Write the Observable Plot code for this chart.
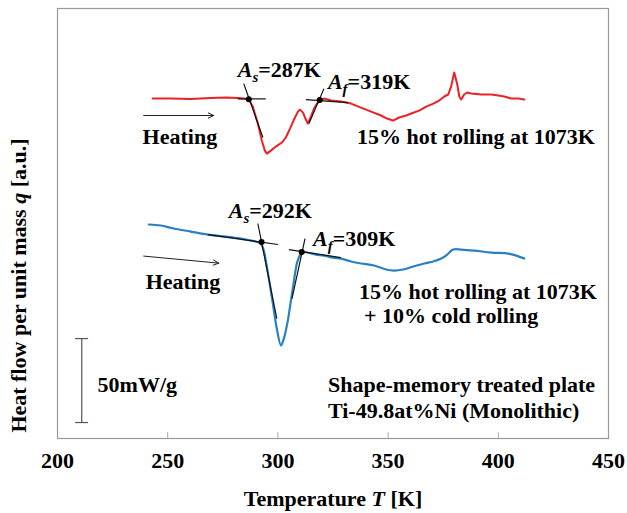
<!DOCTYPE html>
<html><head><meta charset="utf-8">
<script src="https://cdn.jsdelivr.net/npm/d3@7"></script>
<script src="https://cdn.jsdelivr.net/npm/@observablehq/plot@0.6"></script>
<style>body{margin:0;background:#fff}</style>
</head><body><div id="chart"></div>
<script>
// Temperature (K) and heat flow (mW/g, arbitrary offset)
const redT = [243.2, 251.4, 260.5, 269.5, 276.4, 281.8, 284.5, 286.8, 288.6, 290.9, 292.7, 294.1, 295.0, 296.8, 299.1, 301.8, 303.6, 305.5, 307.3, 309.1, 310.0, 311.4, 312.7, 313.6, 315.0, 316.4, 317.7, 319.1, 320.9, 324.1, 328.6, 333.2, 337.7, 342.3, 346.8, 349.5, 352.3, 355.0, 358.2, 360.5, 364.1, 367.3, 370.5, 373.2, 375.5, 377.3, 378.6, 380.0, 381.4, 382.3, 383.2, 384.5, 385.9, 387.7, 392.3, 396.8, 400.0, 402.7, 405.9, 409.1, 411.8];
const redQ = [202.4, 202.4, 202.1, 202.7, 203.0, 202.7, 202.4, 201.8, 197.6, 187.5, 177.4, 171.4, 169.6, 171.4, 173.8, 176.2, 179.2, 184.5, 189.9, 194.6, 195.8, 194.0, 189.9, 187.5, 191.7, 196.4, 199.4, 201.2, 202.4, 201.2, 200.6, 199.4, 197.0, 194.6, 192.3, 190.5, 189.3, 191.1, 192.3, 193.5, 195.2, 197.6, 199.4, 201.2, 203.6, 204.8, 209.5, 217.9, 210.7, 203.6, 201.8, 204.8, 206.0, 205.4, 204.8, 204.8, 204.2, 203.6, 202.4, 202.4, 201.8];
const blueT = [241.4, 246.8, 252.7, 260.5, 268.2, 276.4, 283.2, 287.7, 290.5, 292.3, 293.6, 294.5, 295.9, 297.7, 299.5, 301.4, 302.7, 304.5, 305.9, 307.3, 308.6, 309.5, 310.9, 313.6, 317.3, 320.9, 325.0, 328.6, 333.2, 337.7, 343.6, 349.1, 352.7, 356.8, 361.4, 366.4, 370.5, 374.1, 376.8, 379.5, 383.2, 389.1, 396.8, 404.5, 408.2, 411.8];
const blueQ = [127.4, 126.8, 125.0, 123.2, 121.4, 120.2, 119.0, 117.9, 117.0, 116.0, 111.9, 106.0, 95.2, 80.4, 65.5, 55.4, 59.5, 70.2, 82.1, 94.0, 104.2, 107.7, 111.0, 110.6, 109.5, 108.9, 107.7, 107.1, 105.4, 104.2, 103.0, 100.6, 100.0, 100.6, 102.4, 104.2, 105.4, 107.1, 109.5, 112.5, 112.5, 111.9, 110.7, 110.1, 108.9, 107.1];

// Onset / finish points
const pointT = [286.8, 319.0, 292.6, 310.8];
const pointQ = [202.0, 201.5, 117.0, 111.0];

// Tangent construction lines [T1, q1, T2, q2]
const tangents = [
  [281.8, 202.2, 294.5, 202.2],
  [284.5, 211.3, 293.2, 179.2],
  [312.7, 201.8, 331.8, 200.0],
  [314.1, 187.5, 320.9, 208.3],
  [268.2, 121.4, 300.0, 115.5],
  [290.9, 128.0, 299.5, 71.4],
  [305.0, 112.5, 328.6, 107.7],
  [306.4, 83.3, 312.3, 119.0]
];

// Heating arrows [T1, q1, T2, q2]
const arrows = [
  [239.1, 192.3, 270.9, 192.3],
  [239.1, 108.6, 273.2, 104.4]
];

// Text annotations
const labelText = ["As=287K", "Af=319K", "Heating", "15% hot rolling at 1073K", "As=292K", "Af=309K", "Heating", "15% hot rolling at 1073K", "+ 10% cold rolling", "50mW/g", "Shape-memory treated plate", "Ti-49.8at%Ni (Monolithic)"];
const labelT = [281.8, 322.7, 238.6, 335.9, 277.7, 315.9, 240.0, 336.8, 339.1, 218.2, 322.7, 322.7];
const labelQ = [215.5, 208.3, 175.6, 175.6, 131.0, 114.9, 89.3, 83.3, 68.5, 27.4, 27.4, 12.5];

// Scale bar: 50 mW/g
const scaleT = 211;
const scaleQ = [9.5, 59.5];
const scaleCapT = [208.2, 214.1];

const xTicks = [200, 250, 300, 350, 400, 450];
const innerTicks = [250, 300, 350, 400];

const red = redT.map((t, i) => ({t, q: redQ[i]}));
const blue = blueT.map((t, i) => ({t, q: blueQ[i]}));
const pts = pointT.map((t, i) => ({t, q: pointQ[i]}));
const labels = labelText.map((s, i) => ({s, t: labelT[i], q: labelQ[i]}));

const chart = Plot.plot({
  width: 627,
  height: 513,
  marginLeft: 57,
  marginRight: 19,
  marginTop: 8,
  marginBottom: 75,
  style: {fontFamily: "'Liberation Serif', 'Times New Roman', serif", fontSize: "22px", fontWeight: "bold", background: "#fff", color: "#000"},
  x: {domain: [200, 450], ticks: xTicks, tickSize: 0, tickPadding: 14, tickFormat: d => String(d), label: null},
  y: {domain: [0, 256], axis: null},
  marks: [
    Plot.frame({stroke: "#999", strokeWidth: 1.2}),
    Plot.ruleX(innerTicks, {y1: 0, y2: 3.5, stroke: "#aaa"}),
    Plot.line(red, {x: "t", y: "q", stroke: "#ec2027", strokeWidth: 2}),
    Plot.line(blue, {x: "t", y: "q", stroke: "#2b7fc3", strokeWidth: 2.2, curve: "catmull-rom"}),
    Plot.link(tangents, {x1: d => d[0], y1: d => d[1], x2: d => d[2], y2: d => d[3], stroke: "#111", strokeWidth: 1.2}),
    Plot.dot(pts, {x: "t", y: "q", r: 3, fill: "#000"}),
    Plot.arrow(arrows, {x1: d => d[0], y1: d => d[1], x2: d => d[2], y2: d => d[3], stroke: "#222", strokeWidth: 1, headLength: 9, headAngle: 50}),
    Plot.ruleX([scaleT], {y1: scaleQ[0], y2: scaleQ[1], stroke: "#555", strokeWidth: 1.2}),
    Plot.ruleY(scaleQ, {x1: scaleCapT[0], x2: scaleCapT[1], stroke: "#555", strokeWidth: 1.2}),
    Plot.text(labels, {x: "t", y: "q", text: "s", textAnchor: "start", lineAnchor: "bottom", fontSize: 22}),
    Plot.text(["Temperature T [K]"], {frameAnchor: "bottom", dy: 67, lineAnchor: "bottom", textAnchor: "middle", fontSize: 22}),
    Plot.text(["Heat flow per unit mass q [a.u.]"], {frameAnchor: "left", dx: -39, dy: 62, rotate: -90, textAnchor: "middle", lineAnchor: "middle", fontSize: 22})
  ]
});
document.getElementById("chart").appendChild(chart);

// Rich text: italic symbols and subscripts
chart.querySelectorAll("text").forEach(el => {
  const s = el.textContent;
  let m = s.match(/^A([sf])(=.*)$/);
  if (m) {
    el.innerHTML = `<tspan font-style="italic">A</tspan><tspan font-style="italic" font-size="15" dy="5">${m[1]}</tspan><tspan dy="-5">${m[2]}</tspan>`;
  } else if (s === "Temperature T [K]") {
    el.innerHTML = `Temperature <tspan font-style="italic">T</tspan> [K]`;
  } else if (s === "Heat flow per unit mass q [a.u.]") {
    el.innerHTML = `Heat flow per unit mass <tspan font-style="italic">q</tspan> [a.u.]`;
  }
});
</script>
</body></html>
